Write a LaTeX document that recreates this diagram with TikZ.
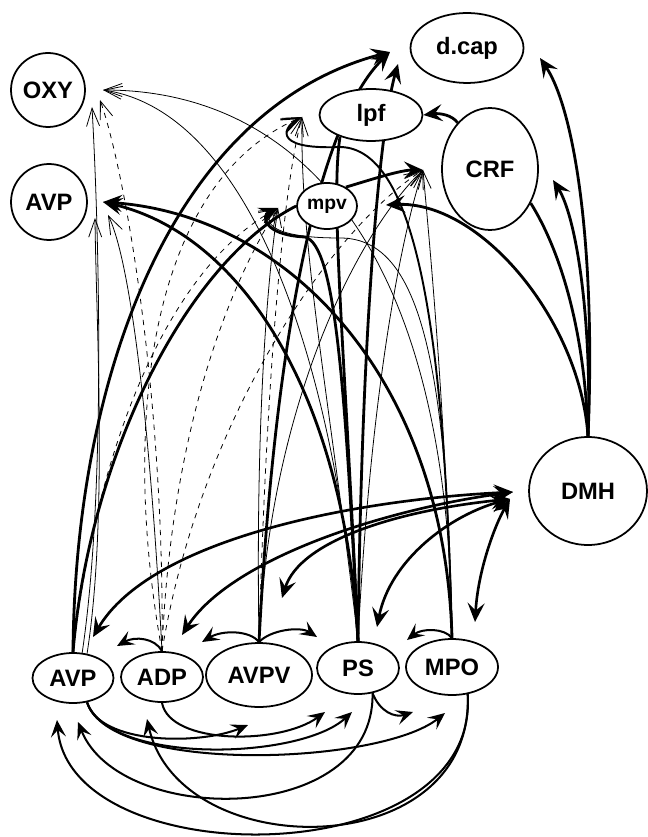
\documentclass[tikz,border=0pt]{standalone}
\usepackage{fontspec}
\setmainfont{Liberation Sans}
\usetikzlibrary{shapes.geometric,arrows.meta,backgrounds}

\tikzset{
  region/.style={draw, ellipse, line width=1pt, fill=white, inner sep=0pt,
    font=\bfseries\fontsize{13.5}{15}\selectfont},
  thickline/.style={line width=1.6pt},
  thickarrow/.style={thickline, -{Stealth[length=3.8mm,width=3.4mm,inset=1.5mm]}},
  twoway/.style={line width=1.5pt,
    {Stealth[length=3.8mm,width=3.4mm,inset=1.5mm]}-{Stealth[length=3.8mm,width=3.4mm,inset=1.5mm]}},
  medarrow/.style={line width=1.15pt, -{Stealth[length=3.4mm,width=3mm,inset=1.4mm]}},
  thinarrow/.style={line width=0.45pt, -{Straight Barb[length=3.6mm,width=2.6mm]}},
  looparrow/.style={line width=1.1pt, -{Straight Barb[length=3.6mm,width=2.8mm]}}
}

\begin{document}
\begin{tikzpicture}[x=0.02cm, y=-0.02cm]
\useasboundingbox (0,0) rectangle (648,837);

% target regions
\node[region, minimum width=1.48cm, minimum height=1.48cm] (oxy) at (48,90) {OXY};
\node[region, minimum width=1.52cm, minimum height=1.52cm] (avpt) at (49,202) {AVP};
\node[region, minimum width=2.26cm, minimum height=1.4cm] (dcap) at (467,48) {d.cap};
\node[region, minimum width=2.06cm, minimum height=1.04cm] (lpf) at (371,115) {lpf};
\node[region, minimum width=1.92cm, minimum height=2.44cm] (crf) at (490,169) {CRF};
\node[region, minimum width=1.2cm, minimum height=0.92cm,
  font=\bfseries\fontsize{11}{13}\selectfont] (mpv) at (327,206) {mpv};
\node[region, minimum width=2.36cm, minimum height=2.16cm] (dmh) at (588,491) {DMH};

% source row
\node[region, minimum width=1.62cm, minimum height=1.0cm] (avp) at (73,678) {AVP};
\node[region, minimum width=1.64cm, minimum height=1.0cm] (adp) at (162,677) {ADP};
\node[region, minimum width=2.12cm, minimum height=1.28cm] (avpv) at (259,675) {AVPV};
\node[region, minimum width=1.64cm, minimum height=1.04cm] (ps) at (358,668) {PS};
\node[region, minimum width=1.84cm, minimum height=1.12cm] (mpo) at (452,667) {MPO};

% arrow tips that stop short of a region
\coordinate (dcapA) at (390,52);
\coordinate (dcapB) at (398,64);
\coordinate (dcapC) at (540,58);
\coordinate (crfA) at (423,170);
\coordinate (crfB) at (553,180);
\coordinate (mpvA) at (278,208);
\coordinate (mpvB) at (386,205);
\coordinate (lpfA) at (302,117);
\coordinate (oxyA) at (103,90);
\coordinate (oxyB) at (92,107);
\coordinate (oxyC) at (100,100);
\coordinate (avptA) at (103,202);
\coordinate (avptB) at (95,218);
\coordinate (avptC) at (108,215);
\coordinate (dmhA) at (513,492);
\coordinate (dmhB) at (510,499);
\coordinate (avpB) at (93,637);
\coordinate (adpB) at (182,635);
\coordinate (avpvB) at (282,598);
\coordinate (psB) at (377,627);
\coordinate (mpoB) at (475,622);
\coordinate (avpC) at (117,646);
\coordinate (adpC) at (202,642);
\coordinate (psC) at (317,637);
\coordinate (psD) at (407,640);
\coordinate (avpvD) at (248,725);
\coordinate (psE) at (325,712);
\coordinate (psF) at (352,712);
\coordinate (mpoE) at (445,713);
\coordinate (mpoF) at (413,712);
\coordinate (avpE) at (78,722);
\coordinate (adpE) at (147,719);
\coordinate (avpF) at (57,720);

\begin{scope}[on background layer]
% thin and dashed projections
\draw[thinarrow] (avp.70) .. controls (105,500) and (100,250) .. (oxyB);
\draw[thinarrow] (avp.60) .. controls (108,520) and (96,320) .. (avptB);
\draw[thinarrow] (adp.north) .. controls (150,420) and (130,260) .. (avptC);
\draw[thinarrow] (ps.north) .. controls (330,330) and (240,110) .. (oxyA);
\draw[thinarrow] (mpo.north) .. controls (450,250) and (300,90) .. (oxyA);
\draw[thinarrow, dashed] (adp.north) .. controls (165,400) and (125,170) .. (oxyC);
\draw[thinarrow, dashed] (adp.north) .. controls (120,420) and (150,180) .. (lpfA);
\draw[thinarrow, dashed] (avp.north) .. controls (100,420) and (180,260) .. (mpvA);
\draw[thinarrow, dashed] (adp.north) .. controls (170,450) and (220,300) .. (mpvA);
\draw[thinarrow, dashed] (avpv.north) .. controls (265,420) and (280,200) .. (lpfA);
\draw[thinarrow, dashed] (adp.north) .. controls (200,420) and (330,230) .. (crfA);
\draw[thinarrow] (avpv.north) .. controls (270,400) and (360,230) .. (crfA);
\draw[thinarrow] (ps.north) .. controls (370,400) and (400,240) .. (crfA);
\draw[thinarrow] (mpo.north) .. controls (445,400) and (430,250) .. (crfA);
\draw[thinarrow] (avpv.north) .. controls (255,400) and (270,260) .. (mpvA);
\draw[thinarrow] (ps.north) .. controls (330,400) and (300,250) .. (lpfA);
\draw[thinarrow] (mpo.north) .. controls (448,330) and (410,238) .. (340,238)
  .. controls (262,238) and (262,218) .. (mpvA);
\draw[looparrow] (mpo.north) .. controls (445,350) and (420,148) .. (340,147)
  .. controls (268,150) and (285,125) .. (lpfA);

% heavy projections
\draw[thickarrow] (avp.north) .. controls (75,380) and (170,110) .. (dcapA);
\draw[thickline] (avp.north) .. controls (90,450) and (190,260) .. (mpv.west);
\draw[thickarrow] (avpv.north) .. controls (275,330) and (320,120) .. (dcapA);
\draw[thickarrow] (ps.north) .. controls (362,300) and (382,120) .. (dcapB);
\draw[thickline] (ps.north) .. controls (345,350) and (330,200) .. (lpf.215);
\draw[thickarrow] (mpo.north) .. controls (445,380) and (290,215) .. (avptA);
\draw[thickarrow] (ps.north) .. controls (345,400) and (245,235) .. (avptA);
\draw[thickarrow] (ps.north) .. controls (345,380) and (335,245) .. (305,237)
  .. controls (262,235) and (262,215) .. (mpvA);
\draw[thickarrow] (dmh.north) .. controls (580,320) and (480,200) .. (mpvB);
\draw[thickarrow] (dmh.north) .. controls (592,330) and (578,220) .. (crfB);
\draw[thickline] (crf.-40) .. controls (560,250) and (585,330) .. (dmh.north);
\draw[thickarrow] (dmh.north) .. controls (596,250) and (575,110) .. (dcapC);
\draw[thickarrow] (crf.125) .. controls (452,115) and (440,113) .. (lpf.east);
\draw[thickarrow] (mpv.45) .. controls (370,180) and (400,170) .. (crfA);

% DMH exchanges with the source row
\draw[twoway] (dmhA) .. controls (350,500) and (150,540) .. (avpB);
\draw[twoway] (dmhA) .. controls (380,510) and (230,560) .. (adpB);
\draw[twoway] (dmhB) .. controls (400,510) and (300,540) .. (avpvB);
\draw[twoway] (dmhB) .. controls (450,515) and (390,560) .. (psB);
\draw[twoway] (dmhB) .. controls (495,525) and (478,570) .. (mpoB);

% short links within the row
\draw[medarrow] (adp.north) .. controls (155,638) and (135,636) .. (avpC);
\draw[medarrow] (avpv.north) .. controls (250,630) and (222,630) .. (adpC);
\draw[medarrow] (avpv.north) .. controls (270,630) and (300,626) .. (psC);
\draw[medarrow] (mpo.north) .. controls (445,628) and (422,628) .. (psD);

% links below the row
\draw[medarrow] (avp.-60) .. controls (100,745) and (200,745) .. (avpvD);
\draw[medarrow] (adp.south) .. controls (170,745) and (280,745) .. (psE);
\draw[medarrow] (avp.-60) .. controls (110,765) and (300,760) .. (psF);
\draw[medarrow] (avp.-60) .. controls (110,775) and (380,765) .. (mpoE);
\draw[medarrow] (ps.-60) .. controls (380,712) and (395,718) .. (mpoF);
\draw[medarrow] (ps.-60) .. controls (375,827) and (120,827) .. (avpE);
\draw[medarrow] (mpo.-60) .. controls (475,865) and (180,865) .. (adpE);
\draw[medarrow] (mpo.-60) .. controls (480,875) and (70,875) .. (avpF);
\end{scope}
\end{tikzpicture}
\end{document}
